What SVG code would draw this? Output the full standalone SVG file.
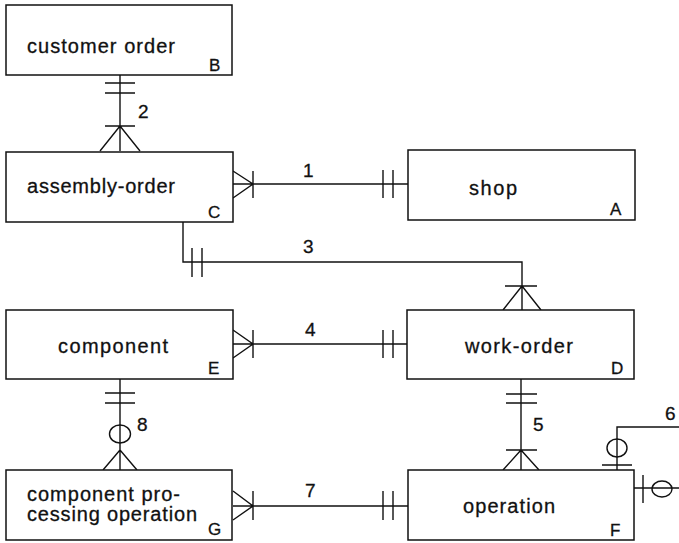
<svg xmlns="http://www.w3.org/2000/svg" width="679" height="543" viewBox="0 0 679 543">
<style>
.box{fill:#fff;stroke:#111;stroke-width:1.5}
.t{font-family:"Liberation Sans",Arial,sans-serif;font-size:20px;fill:#111;stroke:#111;stroke-width:0.3}
.l{font-family:"Liberation Sans",Arial,sans-serif;font-size:17px;fill:#111;stroke:#111;stroke-width:0.3}
.n{font-family:"Liberation Sans",Arial,sans-serif;font-size:19px;fill:#111;stroke:#111;stroke-width:0.3}
.c{fill:none;stroke:#111;stroke-width:1.4}
</style>
<rect width="679" height="543" fill="#fff"/>
<g id="connectors" class="c">
  <path d="M120 75V151M105 83H135M105 93H135M105 126H135M120 126L100 151M120 126L140 151"/>
  <path d="M233 184H408M233 171L253 184L233 198M253 171V198M383 170V198M393 170V198"/>
  <path d="M183 221V262H522V310M192 248V277M202 248V277M505 286H537M522 286L503 310M522 286L541 310"/>
  <path d="M233 344H408M233 330L253 344L233 358M253 330V358M383 330V358M393 330V358"/>
  <path d="M120 379V470M105 393H135M105 403H135M120 450L103 470M120 450L137 470"/>
  <ellipse cx="120" cy="434" rx="10.5" ry="9" fill="#fff"/>
  <path d="M120 425V443"/>
  <path d="M521 379V470M506 394H537M506 403H537M506 450H537M521 450L503 470M521 450L539 470"/>
  <path d="M233 506H408M233 491L253 506L233 520M253 491V520M383 491V520M393 491V520"/>
  <path d="M617 470V427H679M602 465H632"/>
  <ellipse cx="617" cy="448" rx="10" ry="9"/>
  <path d="M634 488H679M643 475V503"/>
  <ellipse cx="662" cy="489" rx="10" ry="8"/>
</g>
<g id="B"><rect class="box" x="6" y="5" width="226" height="70"/><text class="t" x="27" y="53" textLength="148" lengthAdjust="spacing">customer order</text><text class="l" x="209" y="71">B</text></g>
<g id="C"><rect class="box" x="6" y="152" width="227" height="70"/><text class="t" x="27" y="193" textLength="148" lengthAdjust="spacing">assembly-order</text><text class="l" x="208" y="218">C</text></g>
<g id="A"><rect class="box" x="408" y="150" width="227" height="70"/><text class="t" x="469" y="195" textLength="48" lengthAdjust="spacing">shop</text><text class="l" x="610" y="215">A</text></g>
<g id="E"><rect class="box" x="6" y="310" width="227" height="69"/><text class="t" x="58" y="353" textLength="110" lengthAdjust="spacing">component</text><text class="l" x="208" y="374">E</text></g>
<g id="D"><rect class="box" x="407" y="310" width="227" height="69"/><text class="t" x="465" y="353" textLength="108" lengthAdjust="spacing">work-order</text><text class="l" x="611" y="374">D</text></g>
<g id="G"><rect class="box" x="6" y="470" width="226" height="70"/><text class="t" x="27" y="501" textLength="153" lengthAdjust="spacing">component pro-</text><text class="t" x="27" y="521" textLength="170" lengthAdjust="spacing">cessing operation</text><text class="l" x="208" y="535">G</text></g>
<g id="F"><rect class="box" x="408" y="470" width="226" height="70"/><text class="t" x="463" y="513" textLength="92" lengthAdjust="spacing">operation</text><text class="l" x="610" y="536">F</text></g>
<g id="labels">
<text class="n" x="303" y="177">1</text>
<text class="n" x="138" y="118">2</text>
<text class="n" x="303" y="253">3</text>
<text class="n" x="305" y="336">4</text>
<text class="n" x="533" y="431">5</text>
<text class="n" x="665" y="420">6</text>
<text class="n" x="305" y="497">7</text>
<text class="n" x="137" y="431">8</text>
</g>
</svg>
